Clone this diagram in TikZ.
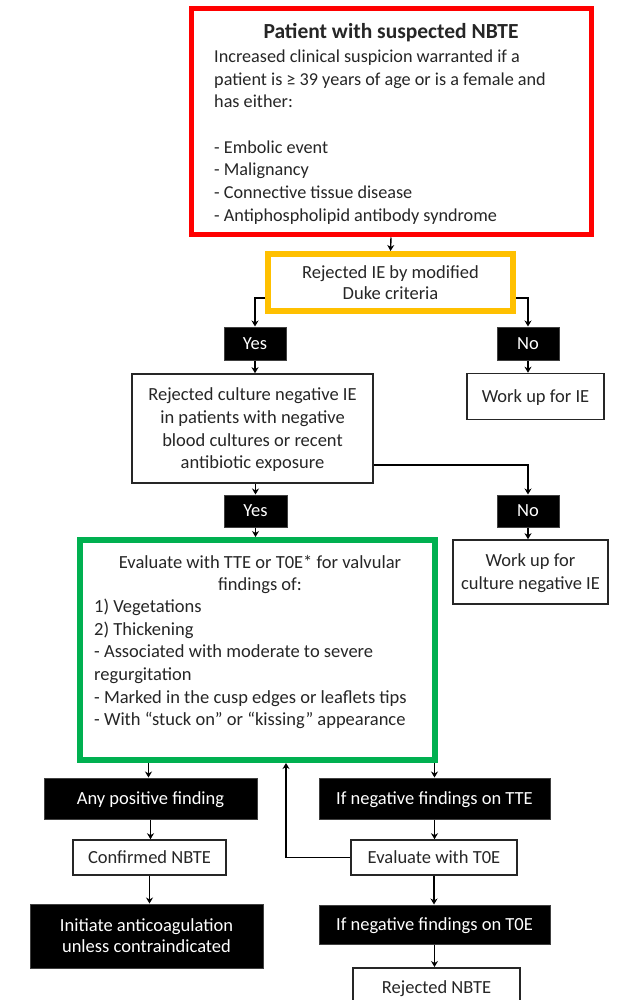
\documentclass[tikz,border=0pt]{standalone}
\usepackage{fontspec}
\setmainfont{Carlito}
\usetikzlibrary{arrows.meta,calc}
\definecolor{nbtered}{HTML}{FF0000}
\definecolor{dukegold}{HTML}{FFC000}
\definecolor{evalgreen}{HTML}{00B050}
\definecolor{txt}{HTML}{262626}
\begin{document}
\begin{tikzpicture}[x=1pt,y=-1pt,
  base/.style={inner sep=0pt, align=center, font=\fontsize{18.5}{22}\selectfont, text=txt},
  wbox/.style={base, draw=black!85, line width=1.6pt, fill=white, text depth=0pt},
  bbox/.style={base, draw=black!75, line width=1pt, fill=black, text=white, text depth=0pt},
  redframe/.style={draw=nbtered, line width=5pt, fill=white},
  goldframe/.style={base, draw=dukegold, line width=6pt, fill=white},
  greenframe/.style={draw=evalgreen, line width=6pt, fill=white},
  arr/.style={draw=black, line width=1.4pt, -{Stealth[length=6pt,width=7pt]}}
]
\fill[white] (0,0) rectangle (628,1000);
\useasboundingbox (0,0) rectangle (628,1000);

% top red box
\node[redframe, minimum width=400pt, minimum height=226pt] (nbte) at (391,122) {};
\node[base, font=\fontsize{21.5}{24}\selectfont\bfseries] (nbtetitle) at (391,33) {Patient with suspected NBTE};
\node[base, anchor=north west, align=left, font=\fontsize{18.2}{22.7}\selectfont] (nbtebody) at (214,49.5)
  {Increased clinical suspicion warranted if a\\
   patient is ≥ 39 years of age or is a female and\\
   has either:\\[22.7pt]
   - Embolic event\\
   - Malignancy\\
   - Connective tissue disease\\
   - Antiphospholipid antibody syndrome};

% Duke
\node[goldframe, minimum width=245pt, minimum height=57pt, font=\fontsize{18.5}{21}\selectfont] (duke) at (390.5,282.5)
  {Rejected IE by modified\\Duke criteria};
\node[bbox, minimum width=62pt, minimum height=33pt] (yes1) at (255,343.5) {Yes};
\node[bbox, minimum width=62pt, minimum height=33pt] (no1) at (528,343.5) {No};
\node[wbox, minimum width=241pt, minimum height=109pt, font=\fontsize{18.5}{22.7}\selectfont] (culture) at (252.5,428.5)
  {Rejected culture negative IE\\in patients with negative\\blood cultures or recent\\antibiotic exposure};
\node[wbox, minimum width=137pt, minimum height=46pt] (workie) at (535.5,396.5) {Work up for IE};

\node[bbox, minimum width=63pt, minimum height=32pt] (yes2) at (255.5,511) {Yes};
\node[bbox, minimum width=62pt, minimum height=32pt] (no2) at (528,511) {No};
\node[wbox, minimum width=155pt, minimum height=64pt, font=\fontsize{18.5}{23}\selectfont] (workcult) at (530.5,572)
  {Work up for\\culture negative IE};

% green box
\node[greenframe, minimum width=355pt, minimum height=220pt] (green) at (257.5,650) {};
\node[base, anchor=north, font=\fontsize{18.5}{22.4}\selectfont] (greenhead) at (260,555)
  {Evaluate with TTE or T0E* for valvular\\findings of:};
\node[base, anchor=north west, align=left, font=\fontsize{18.5}{22.6}\selectfont] (greenlist) at (94,599)
  {1) Vegetations\\
   2) Thickening\\
   - Associated with moderate to severe\\
   regurgitation\\
   - Marked in the cusp edges or leaflets tips\\
   - With “stuck on” or “kissing” appearance};

% bottom left
\node[bbox, minimum width=213pt, minimum height=41pt] (anypos) at (150.5,798.5) {Any positive finding};
\node[wbox, minimum width=153pt, minimum height=35pt] (confirmed) at (149.5,857.5) {Confirmed NBTE};
\node[bbox, minimum width=233pt, minimum height=64pt, font=\fontsize{18.5}{21}\selectfont] (initiate) at (146.5,936)
  {Initiate anticoagulation\\unless contraindicated};

% bottom right
\node[bbox, minimum width=231pt, minimum height=41pt] (ifnegtte) at (434.5,798.5) {If negative findings on TTE};
\node[wbox, minimum width=166pt, minimum height=35pt] (evaltoe) at (434,857.5) {Evaluate with T0E};
\node[bbox, minimum width=231pt, minimum height=39pt] (ifnegtoe) at (434.5,924.5) {If negative findings on T0E};
\node[wbox, minimum width=167pt, minimum height=44pt, anchor=north] (rejected) at (436.5,967) {};
\node[base] (rejectedtext) at (436.5,989) {Rejected NBTE};

% connectors
\draw[arr] (nbte.south) -- (duke.north);
\draw[arr] ([yshift=-15.5pt]duke.west) -| (yes1.north);
\draw[arr] ([yshift=-15.5pt]duke.east) -| (no1.north);
\draw[arr] (yes1.south) -- (yes1.south |- culture.north);
\draw[arr] (no1.south) -- (no1.south |- workie.north);
\draw[arr] (yes2 |- culture.south) -- (yes2.north);
\draw[arr] ([yshift=-36.5pt]culture.east) -| (no2.north);
\draw[arr] (yes2.south) -- (yes2.south |- green.north);
\draw[arr] (no2.south) -- (no2.south |- workcult.north);
\draw[arr] ([xshift=-2pt]anypos.north |- green.south) -- ([xshift=-2pt]anypos.north);
\draw[arr] (ifnegtte.north |- green.south) -- (ifnegtte.north);
\draw[arr] (anypos.south) -- (anypos.south |- confirmed.north);
\draw[arr] (confirmed.south) -- (confirmed.south |- initiate.north);
\draw[arr] (ifnegtte.south) -- (ifnegtte.south |- evaltoe.north);
\draw[arr] (evaltoe.west) -| ([xshift=28.5pt]green.south);
\draw[arr] (evaltoe.south) -- (evaltoe.south |- ifnegtoe.north);
\draw[arr] (ifnegtoe.south) -- (ifnegtoe.south |- rejected.north);
\end{tikzpicture}
\end{document}
